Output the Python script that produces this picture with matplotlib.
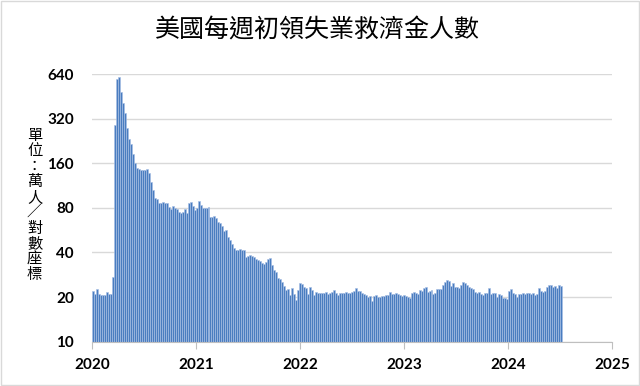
import pandas as pd
import matplotlib
matplotlib.use("Agg")
import matplotlib.pyplot as plt
from matplotlib.patches import Rectangle

# weekly initial jobless claims, unit: 10k people
claims_2020 = [22, 21, 22.5, 21, 20.5, 20.5, 20.5, 21.5, 21, 21,
               27.5, 290, 590, 614, 483, 411, 348, 275, 232, 215,
               184, 160, 148, 146, 145, 145, 144, 146, 137, 120,
               106, 93, 91.5, 86, 86, 88, 86, 86, 81, 78,
               82, 79.6, 78, 75.5, 74, 75, 79, 73.5, 86.6, 88,
               82, 77.5]
claims_2021 = [80, 88.6, 84, 80, 80, 80, 81, 69.5, 69.5, 70,
               68, 64.6, 63, 59.9, 56.2, 56.5, 51.1, 48.6, 45.3, 42.8,
               41.6, 41.8, 42, 41.8, 41.6, 37.1, 37.9, 38.5, 37.9, 37.5,
               36.0, 35.6, 35.2, 34.2, 33.5, 34.7, 36.0, 36.5, 32.9, 30.5,
               29.3, 26.8, 26.5, 25.4, 23.8, 22.3, 22.5, 20.7, 22.9, 21.0,
               19.1, 22.3]
claims_2022 = [24.8, 24.4, 23.5, 22.9, 20.9, 23.3, 22.3, 20.7, 21.7, 21.4,
               21.2, 21.4, 21.2, 21.6, 21.0, 21.2, 21.7, 22.3, 21.4, 20.7,
               21.4, 21.4, 21.2, 21.6, 21.2, 21.4, 21.7, 22.0, 22.9, 22.0,
               22.0, 21.4, 21.0, 20.7, 20.1, 20.3, 18.9, 20.3, 20.7, 20.1,
               20.1, 20.3, 20.3, 20.5, 20.7, 21.7, 21.0, 21.0, 21.2, 21.0,
               20.7, 20.3]
claims_2023 = [20.7, 20.3, 20.1, 19.8, 21.2, 21.7, 21.4, 21.0, 22.3, 22.0,
               22.9, 23.3, 21.7, 22.0, 22.3, 21.0, 21.2, 22.5, 22.5, 22.5,
               24.1, 25.4, 26.1, 25.8, 23.8, 24.8, 23.3, 23.3, 22.9, 24.1,
               25.4, 24.8, 24.1, 23.4, 23.0, 22.7, 21.5, 21.2, 21.7, 21.0,
               20.7, 21.4, 21.4, 22.9, 21.0, 21.4, 21.2, 20.1, 21.0, 20.7,
               19.6, 19.6]
claims_2024 = [19.4, 22.1, 22.6, 21.2, 21.0, 20.1, 21.0, 21.0, 21.2, 21.0,
               21.2, 21.4, 21.0, 21.2, 20.7, 21.0, 22.9, 22.1, 21.7, 22.1,
               23.3, 24.1, 24.1, 23.5, 23.8, 23.0, 24.1, 23.8]

claims = claims_2020 + claims_2021 + claims_2022 + claims_2023 + claims_2024
weeks = pd.date_range("2020-01-04", periods=len(claims), freq="7D")

y_ticks = [10, 20, 40, 80, 160, 320, 640]
years = [2020, 2021, 2022, 2023, 2024, 2025]

title = "美國每週初領失業救濟金人數"
y_label = "單位：萬人／對數座標"

fig = plt.figure(figsize=(6.4, 3.86), dpi=100)
ax = fig.add_axes([0.144, 0.115, 0.812, 0.693])

# light edges give the thin separator lines between weekly bars
ax.bar(weeks, claims, width=7, color="#4a7dc0", edgecolor="#a8c0e4",
       linewidth=0.45, zorder=2)

ax.set_yscale("log", base=2)
ax.set_ylim(10, 640)
ax.set_yticks(y_ticks)
ax.set_yticklabels([str(t) for t in y_ticks])
ax.yaxis.set_minor_locator(matplotlib.ticker.NullLocator())
ax.grid(axis="y", color="#d9d9d9", linewidth=1, zorder=0)

year_dates = [pd.Timestamp(f"{y}-01-01") for y in years]
ax.set_xlim(year_dates[0], year_dates[-1])
ax.set_xticks(year_dates)
ax.set_xticklabels([str(y) for y in years])

for s in ["top", "right", "left"]:
    ax.spines[s].set_visible(False)
ax.spines["bottom"].set_color("#bfbfbf")

ax.tick_params(axis="y", length=0, pad=13)
ax.tick_params(axis="x", length=5, color="#bfbfbf", pad=7)
for lbl in ax.get_xticklabels() + ax.get_yticklabels():
    lbl.set_fontfamily("Lato")
    lbl.set_fontweight("bold")
    lbl.set_fontsize(11)

fig.text(0.496, 0.92, title, ha="center", va="center",
         fontsize=18, family=["Noto Sans CJK TC", "DejaVu Sans"])
fig.text(0.054, 0.469, "\n".join(y_label), ha="center", va="center",
         fontsize=11, linespacing=0.88, family=["Noto Sans CJK TC", "DejaVu Sans"])

# chart border
fig.patches.append(Rectangle((0.002, 0.002), 0.996, 0.996, transform=fig.transFigure,
                             fill=False, edgecolor="#d9d9d9", linewidth=1))

fig.savefig("out.png", dpi=100)
